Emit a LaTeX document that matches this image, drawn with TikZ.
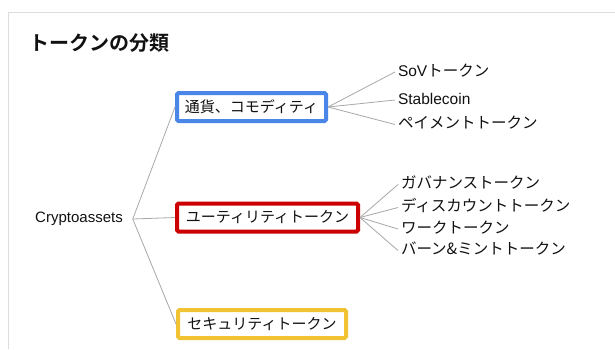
\documentclass[tikz,border=0pt]{standalone}
\usepackage{fontspec}
\setmainfont{Liberation Sans}
\newfontfamily\jp{Noto Sans CJK JP}
\newfontfamily\jpb{Noto Sans CJK JP Bold}
\definecolor{frameg}{HTML}{DDDDDD}
\definecolor{lineg}{HTML}{A8A8A8}
\definecolor{gblue}{HTML}{4A86E8}
\definecolor{gred}{HTML}{CC0000}
\definecolor{gyellow}{HTML}{F1C232}
\definecolor{txt}{HTML}{111111}
\tikzset{
  catbox/.style={draw=#1, line width=4pt, rounded corners=1.5pt, fill=white,
    minimum height=28pt, inner sep=0pt, text=txt,
    font=\jp\fontsize{15pt}{17pt}\selectfont},
  leaf/.style={anchor=west, inner xsep=3pt, inner ysep=0pt, outer sep=0pt,
    text height=11pt, text depth=3pt, text=txt,
    font=\fontsize{15.5pt}{18pt}\selectfont},
  conn/.style={draw=lineg, line width=0.8pt},
}
\begin{document}
\begin{tikzpicture}[x=1pt,y=-1pt]
\useasboundingbox (0,0) rectangle (615,349);
\fill[white] (0,0) rectangle (615,349);
% frame
\coordinate (ftl) at (8,12);
\coordinate (ftr) at (615,12);
\coordinate (fbl) at (8,349);
\draw[frameg, line width=1pt] (fbl) -- (ftl) -- (ftr);
% title
\node[anchor=west, inner sep=0pt, text=txt, font=\jpb\fontsize{20pt}{24pt}\selectfont] (title) at (29,43) {トークンの分類};
% root
\node[inner sep=0pt, outer xsep=10pt, text=txt, font=\fontsize{15pt}{18pt}\selectfont] (root) at (79,219) {Cryptoassets};
% categories
\node[catbox=gblue, minimum width=149pt] (cur) at (251.5,107) {通貨、コモディティ};
\node[catbox=gred, minimum width=181pt] (uti) at (267.5,217.5) {ユーティリティトークン};
\node[catbox=gyellow, minimum width=168pt] (sec) at (262,324) {セキュリティトークン};
% leaves of currency
\node[leaf] (sov) at (395,72) {SoV{\jp トークン}};
\node[leaf] (stb) at (395,100) {Stablecoin};
\node[leaf] (pay) at (395,124.5) {\jp ペイメントトークン};
% leaves of utility
\node[leaf] (gov) at (398,184.5) {\jp ガバナンストークン};
\node[leaf] (dis) at (398,207.5) {\jp ディスカウントトークン};
\node[leaf] (wrk) at (398,229) {\jp ワークトークン};
\node[leaf] (bm) at (398,250.5) {\jp バーン\&ミントトークン};
% connectors
\draw[conn] (root.east) -- (cur.west);
\draw[conn] (root.east) -- (uti.west);
\draw[conn] (root.east) -- (sec.west);
\draw[conn] (cur.east) -- (sov.west);
\draw[conn] (cur.east) -- (stb.west);
\draw[conn] (cur.east) -- (pay.west);
\draw[conn] (uti.east) -- (gov.west);
\draw[conn] (uti.east) -- (dis.west);
\draw[conn] (uti.east) -- (wrk.west);
\draw[conn] (uti.east) -- (bm.west);
\end{tikzpicture}
\end{document}
